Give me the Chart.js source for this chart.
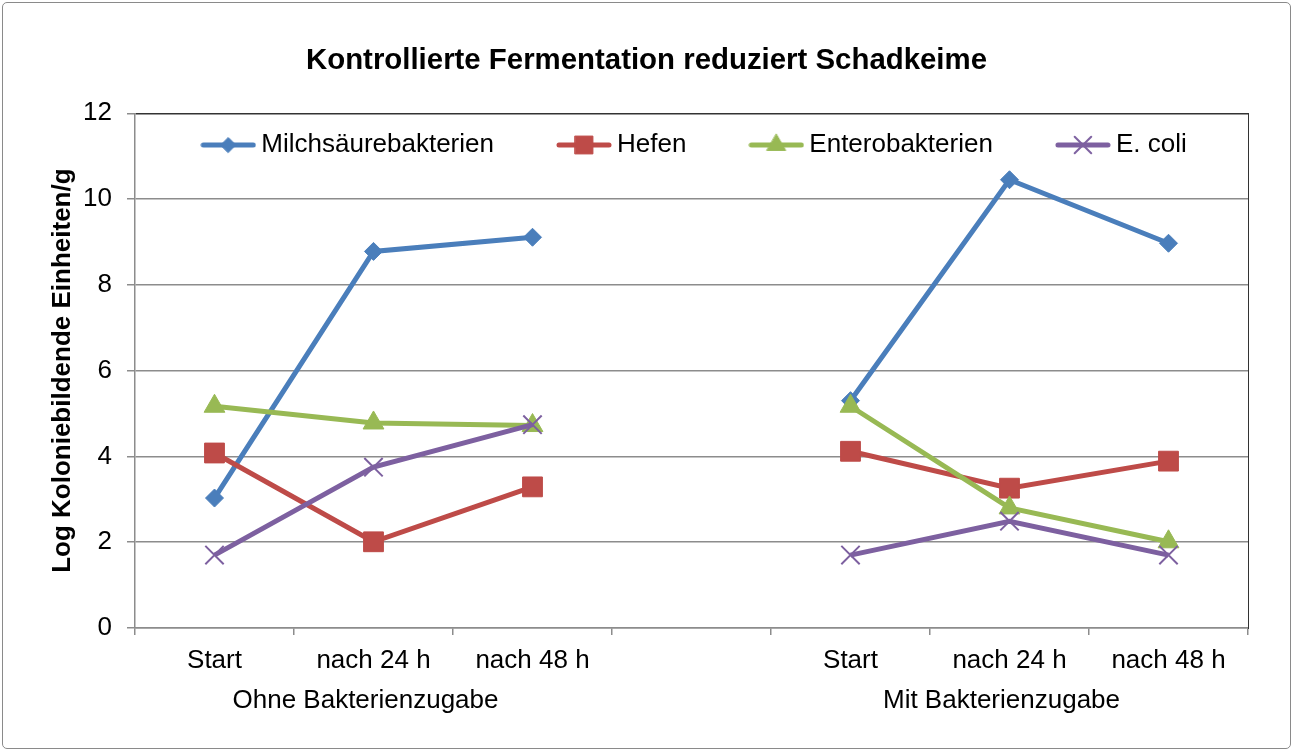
<!DOCTYPE html>
<html>
<head>
<meta charset="utf-8">
<script src="https://cdn.jsdelivr.net/npm/chart.js@4.4.1/dist/chart.umd.min.js"></script>
<style>
  body { margin: 0; background: #fff; }
  #wrap { position: relative; width: 1293px; height: 751px; }
  #frame { position: absolute; left: 2px; top: 2px; width: 1287px; height: 745px;
           border: 1px solid #8a8a8a; border-radius: 5px; pointer-events: none; }
</style>
</head>
<body>
<div id="wrap">
  <canvas id="myChart" width="1293" height="751"></canvas>
  <div id="frame"></div>
</div>
<script>
// categories and group labels
const categories = ['Start', 'nach 24 h', 'nach 48 h', '', 'Start', 'nach 24 h', 'nach 48 h'];
const groupLabels = ['', 'Ohne Bakterienzugabe', '', '', '', 'Mit Bakterienzugabe', ''];

// series values (log KBE/g), null = gap between the two groups
const milchsaeure = [3.03, 8.78, 9.11, null, 5.30, 10.45, 8.97];
const hefen = [4.08, 2.01, 3.29, null, 4.12, 3.26, 3.89];
const entero = [5.17, 4.78, 4.72, null, 5.17, 2.80, 2.01];
const ecoli = [1.70, 3.75, 4.74, null, 1.70, 2.49, 1.70];

const yTicks = [0, 2, 4, 6, 8, 10, 12];

Chart.defaults.font.family = "'Liberation Sans', Arial, sans-serif";
Chart.defaults.color = '#000';

const gridGray = '#8c8c8c';

// legend sample: a short line with the marker in the middle
function legendIcon(color, style, radius) {
    const c = document.createElement('canvas');
    c.width = 56;
    c.height = 26;
    const g = c.getContext('2d');
    g.strokeStyle = color;
    g.fillStyle = color;
    g.lineWidth = 5;
    g.lineCap = 'round';
    g.beginPath();
    g.moveTo(3, 13);
    g.lineTo(53, 13);
    g.stroke();
    const bw = style === 'crossRot' ? 2 : 1;
    g.lineWidth = bw;
    Chart.helpers.drawPoint(g, { pointStyle: style, radius: radius, rotation: 0, borderWidth: bw }, 28, 13);
    return c;
}

function series(label, data, color, style, radius, order) {
    return {
        label: label,
        data: data,
        borderColor: color,
        backgroundColor: color,
        borderWidth: 5,
        pointStyle: style,
        pointRadius: radius,
        pointHoverRadius: radius,
        pointBackgroundColor: color,
        pointBorderColor: color,
        pointBorderWidth: style === 'crossRot' ? 2 : 1,
        spanGaps: false,
        tension: 0,
        order: order,
        icon: legendIcon(color, style, style === 'rectRot' ? 7.5 : radius * 0.9)
    };
}

const datasets = [
    series('Milchsäurebakterien', milchsaeure, '#4A7EBB', 'rectRot', 9, 4),
    series('Hefen', hefen, '#BE4B48', 'rect', 14, 3),
    series('Enterobakterien', entero, '#98B954', 'triangle', 12, 2),
    series('E. coli', ecoli, '#7D60A0', 'crossRot', 13, 1)
];

// put the legend inside the plot area, like the original
const legendInside = {
    id: 'legendInside',
    beforeLayout(chart) {
        const lg = chart.legend;
        if (lg && !lg._inside) {
            const fit = lg.fit;
            lg.fit = function () { fit.call(this); this.height = 0; };
            lg._inside = true;
        }
    },
    afterLayout(chart) {
        const lg = chart.legend;
        const a = chart.chartArea;
        lg.left = a.left - 50;
        lg.right = a.right + 62;
        lg.top = 62;
        lg.bottom = 172;
        lg.height = 110;
        lg.width = lg.right - lg.left;
    }
};

var ctx = document.getElementById('myChart').getContext('2d');
var myChart = new Chart(ctx, {
    type: 'line',
    data: { labels: categories, datasets: datasets },
    plugins: [legendInside],
    options: {
        responsive: false,
        animation: false,
        layout: { padding: 0 },
        plugins: {
            title: {
                display: true,
                text: 'Kontrollierte Fermentation reduziert Schadkeime',
                font: { size: 29.4, weight: 'bold' },
                color: '#000',
                padding: { top: 43, bottom: 35 }
            },
            legend: {
                position: 'top',
                labels: {
                    usePointStyle: true,
                    pointStyleWidth: 40,
                    padding: 70,
                    font: { size: 26 },
                    color: '#000',
                    sort: (a, b) => a.datasetIndex - b.datasetIndex,
                    generateLabels(chart) {
                        const items = Chart.defaults.plugins.legend.labels.generateLabels(chart);
                        items.forEach(it => { it.pointStyle = chart.data.datasets[it.datasetIndex].icon; });
                        return items;
                    }
                }
            },
            tooltip: { enabled: false }
        },
        scales: {
            x: {
                type: 'category',
                offset: true,
                weight: 0,
                grid: { offset: true, drawOnChartArea: false, tickLength: 7, color: gridGray, lineWidth: 1.5 },
                border: { color: gridGray, width: 1.5 },
                ticks: { autoSkip: false, maxRotation: 0, padding: 10, font: { size: 26 }, color: '#000' },
                afterFit: s => { s.height = 46; }
            },
            x2: {
                type: 'category',
                labels: groupLabels,
                position: 'bottom',
                offset: true,
                weight: 1,
                grid: { display: false, drawTicks: false },
                border: { display: false },
                ticks: { autoSkip: false, maxRotation: 0, padding: 11, labelOffset: -8, font: { size: 26 }, color: '#000' },
                afterFit: s => { s.height = 77; }
            },
            y: {
                min: 0,
                max: 12,
                afterBuildTicks: s => { s.ticks = yTicks.map(v => ({ value: v })); },
                grid: {
                    color: c => (c.tick && c.tick.value === 12 ? '#333' : gridGray),
                    tickColor: gridGray,
                    lineWidth: 1.5,
                    tickLength: 8
                },
                border: { color: gridGray, width: 1.5 },
                ticks: { padding: 15, font: { size: 26 }, color: '#000' },
                title: {
                    display: true,
                    text: 'Log Koloniebildende Einheiten/g',
                    font: { size: 26, weight: 'bold' },
                    color: '#000',
                    padding: { top: 47, bottom: 0 }
                },
                afterFit: s => { s.width = 135; }
            },
            y2: {
                position: 'right',
                min: 0,
                max: 12,
                grid: { display: false, drawTicks: false },
                ticks: { display: false },
                border: { color: '#333', width: 1 },
                afterFit: s => { s.width = 45; }
            }
        }
    }
});
</script>
</body>
</html>
